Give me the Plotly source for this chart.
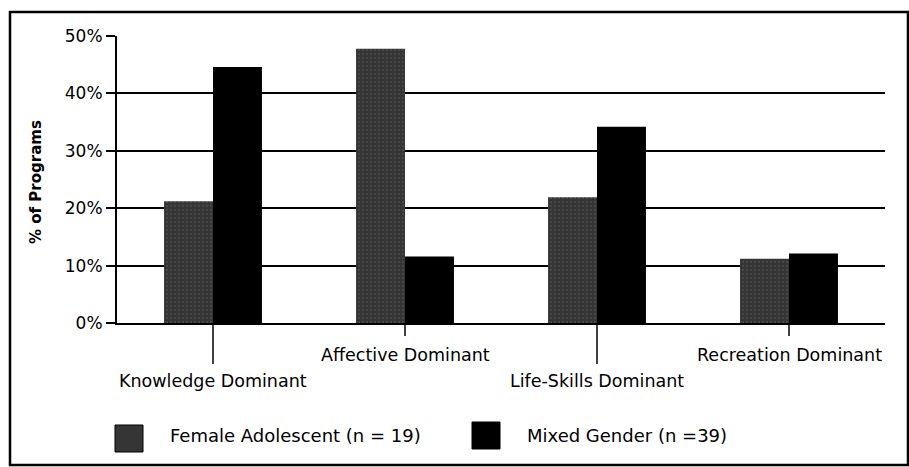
import plotly.graph_objects as go

categories = ["Knowledge Dominant", "Affective Dominant", "Life-Skills Dominant", "Recreation Dominant"]
female_vals = [21.2, 47.8, 21.9, 11.2]
mixed_vals = [44.6, 11.6, 34.2, 12.1]
series_names = ["Female Adolescent (n = 19)", "Mixed Gender (n =39)"]
y_ticks = [0, 10, 20, 30, 40, 50]
y_ticklabels = ["0%", "10%", "20%", "30%", "40%", "50%"]
label_low = [True, False, True, False]

W, H = 909, 467
ML, MR, MT, MB = 117, 24, 36, 144
PW, PH = W - ML - MR, H - MT - MB

FONT = "DejaVu Sans, Verdana, sans-serif"
FEMALE_COLOR = "#353535"
MIXED_COLOR = "#000000"

fig = go.Figure()
fig.add_trace(go.Bar(
    x=categories, y=female_vals, name=series_names[0], showlegend=False,
    marker=dict(color=FEMALE_COLOR, line=dict(width=0),
                pattern=dict(shape=".", fgcolor="#8c8c8c", size=4, solidity=0.12, fillmode="overlay")),
))
fig.add_trace(go.Bar(
    x=categories, y=mixed_vals, name=series_names[1], showlegend=False,
    marker=dict(color=MIXED_COLOR, line=dict(width=0)),
))


def px_x(p):
    return (p - ML) / PW


def px_y(p):
    return (H - MB - p) / PH


shapes = []
annotations = []
for cat, low in zip(categories, label_low):
    y_end = 364 if low else 336
    shapes.append(dict(type="line", xref="x", yref="paper", x0=cat, x1=cat,
                       y0=0, y1=px_y(y_end), line=dict(color="black", width=1.5)))
    annotations.append(dict(xref="x", yref="paper", x=cat, y=px_y(381 if low else 355),
                            text=cat, showarrow=False, yanchor="middle", xanchor="center",
                            font=dict(family=FONT, size=17.5, color="black")))

# outer frame
shapes.append(dict(type="rect", xref="paper", yref="paper",
                   x0=px_x(10), x1=px_x(908), y0=px_y(465), y1=px_y(12),
                   line=dict(color="black", width=2.5), fillcolor="rgba(0,0,0,0)", layer="below"))

# legend (swatches + text)
legend_items = [
    (series_names[0], FEMALE_COLOR, 115, 143, 425, 452, 168),
    (series_names[1], MIXED_COLOR, 472, 500, 422, 449, 525),
]
for name, col, xa, xb, ya, yb, tx in legend_items:
    shapes.append(dict(type="rect", xref="paper", yref="paper",
                       x0=px_x(xa), x1=px_x(xb), y0=px_y(yb), y1=px_y(ya),
                       line=dict(color="black", width=1), fillcolor=col))
    annotations.append(dict(xref="paper", yref="paper", x=px_x(tx), y=px_y(435),
                            text=name, showarrow=False, xanchor="left", yanchor="middle",
                            font=dict(family=FONT, size=18, color="black")))

annotations.append(dict(xref="paper", yref="paper", x=px_x(36), y=px_y(182),
                        text="<b>% of Programs</b>", textangle=-90, showarrow=False,
                        xanchor="center", yanchor="middle",
                        font=dict(family=FONT, size=15, color="black")))

fig.update_layout(
    width=W, height=H,
    margin=dict(l=ML, r=MR, t=MT, b=MB),
    paper_bgcolor="white", plot_bgcolor="white",
    barmode="group", bargap=0.49, bargroupgap=0,
    font=dict(family=FONT, size=17, color="black"),
    showlegend=False,
    shapes=shapes, annotations=annotations,
)
fig.update_xaxes(showticklabels=False, ticks="", showline=True, linecolor="black",
                 linewidth=2, showgrid=False, zeroline=False)
fig.update_yaxes(range=[0, 50], tickvals=y_ticks, ticktext=y_ticklabels,
                 ticks="outside", ticklen=9, tickwidth=2, tickcolor="black",
                 showline=True, linecolor="black", linewidth=2,
                 showgrid=True, gridcolor="black", gridwidth=2, zeroline=False,
                 tickfont=dict(family=FONT, size=17, color="black"))

fig.write_html("out.html", config={"displayModeBar": False},
               post_script="document.body.style.margin='0';")
